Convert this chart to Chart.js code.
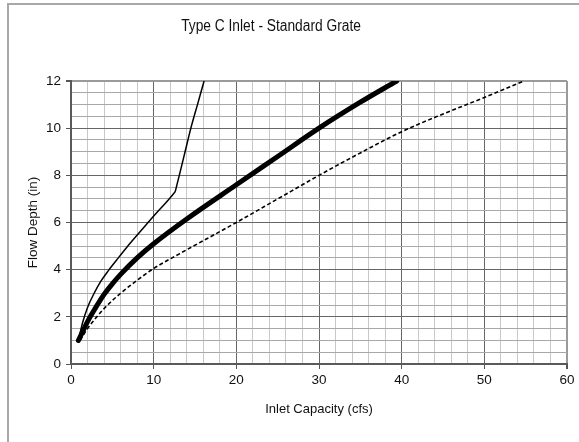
<!DOCTYPE html>
<html lang="en">
<head>
    <meta charset="UTF-8">
    <title>Type C Inlet - Standard Grate</title>
    <style>
        html, body { margin: 0; padding: 0; background: #fff; overflow: hidden; }
        #wrap { position: relative; width: 579px; height: 442px; overflow: hidden; }
        #frame {
            position: absolute; left: 7px; top: 3px; width: 640px; height: 520px;
            border: 2px solid #a8a8a8; box-sizing: border-box;
        }
        canvas { position: absolute; left: 0; top: 0; }
    </style>
</head>
<body>
    <div id="wrap">
        <div id="frame"></div>
        <canvas id="inletChart" width="579" height="442"></canvas>
    </div>

    <script src="https://cdn.jsdelivr.net/npm/chart.js"></script>

    <script>
        // values (capacity in cfs, depth in inches)
        const thinLowX  = [0.9, 1.4, 2.0, 2.8, 3.6, 4.5, 5.5, 7.1, 8.7, 10.2, 11.5, 12.6];
        const thinLowY  = [1.0, 1.75, 2.4, 3.0, 3.5, 3.95, 4.4, 5.1, 5.75, 6.35, 6.85, 7.3];
        const thinHighX = [12.6, 13.1, 13.8, 14.5, 15.3, 16.1];
        const thinHighY = [7.3, 8.0, 9.0, 10.0, 11.0, 12.0];

        const thickX = [0.9, 2.0, 3.0, 4.0, 5.0, 6.0, 8.0, 10.0, 14.0, 20.0, 25.0, 30.0, 35.0, 39.4];
        const thickY = [1.0, 1.8, 2.4, 2.95, 3.4, 3.8, 4.5, 5.1, 6.15, 7.6, 8.8, 10.0, 11.1, 12.0];

        const dashX = [1.1, 2.0, 3.0, 4.0, 6.0, 8.0, 10.0, 13.0, 20.0, 25.0, 30.0, 35.0, 40.0, 45.0, 50.0, 54.8];
        const dashY = [1.0, 1.5, 1.95, 2.35, 3.0, 3.55, 4.05, 4.65, 6.0, 7.0, 8.0, 8.95, 9.85, 10.6, 11.3, 12.0];

        const xTicks = [0, 10, 20, 30, 40, 50, 60];
        const yTicks = [0, 2, 4, 6, 8, 10, 12];

        const chartTitle = 'Type C Inlet - Standard Grate';

        function pts(xs, ys) {
            return xs.map((x, i) => ({ x: x, y: ys[i] }));
        }

        const plain = "'Liberation Sans', Arial, sans-serif";

        // the original title is set in a narrow face, so squeeze it a little
        const narrowTitle = {
            id: 'narrowTitle',
            afterDraw(chart) {
                const c = chart.ctx;
                c.save();
                c.font = '16px ' + plain;
                c.fillStyle = '#111';
                c.textAlign = 'center';
                c.textBaseline = 'middle';
                c.translate(271, 27);
                c.scale(0.86, 1);
                c.fillText(chartTitle, 0, 0);
                c.restore();
            }
        };

        const thinStyle = {
            borderColor: '#000', borderWidth: 1.5, pointRadius: 0,
            showLine: true, cubicInterpolationMode: 'monotone', fill: false
        };

        const ctx = document.getElementById('inletChart').getContext('2d');

        new Chart(ctx, {
            type: 'scatter',
            data: {
                datasets: [
                    Object.assign({ data: pts(thinLowX, thinLowY) }, thinStyle),
                    Object.assign({ data: pts(thinHighX, thinHighY) }, thinStyle),
                    {
                        data: pts(thickX, thickY),
                        borderColor: '#000', borderWidth: 5, pointRadius: 0,
                        showLine: true, cubicInterpolationMode: 'monotone',
                        borderCapStyle: 'round'
                    },
                    {
                        data: pts(dashX, dashY),
                        borderColor: '#000', borderWidth: 1.6, borderDash: [4, 2.5],
                        pointRadius: 0, showLine: true, cubicInterpolationMode: 'monotone'
                    }
                ]
            },
            plugins: [narrowTitle],
            options: {
                responsive: false,
                animation: false,
                layout: { padding: { left: 0, right: 12, top: 81, bottom: 0 } },
                plugins: {
                    legend: { display: false },
                    tooltip: { enabled: false },
                    title: { display: false }
                },
                scales: {
                    x: {
                        type: 'linear', min: 0, max: 60,
                        afterFit: s => { s.height = 78; },
                        ticks: {
                            stepSize: 2, autoSkip: false, maxRotation: 0, padding: 3,
                            color: '#111', font: { family: plain, size: 13.5 },
                            callback: v => xTicks.includes(v) ? v : ''
                        },
                        grid: {
                            tickLength: 5,
                            color: c => c.tick.value === 60 ? '#9a9a9a' : (c.tick.value % 10 === 0 ? '#666' : '#c8c8c8'),
                            lineWidth: c => c.tick.value === 60 ? 2 : 1,
                            tickColor: c => c.tick.value % 10 === 0 ? '#555' : 'rgba(0,0,0,0)'
                        },
                        border: { color: '#5a5a5a', width: 2 },
                        title: {
                            display: true, text: 'Inlet Capacity (cfs)', color: '#111',
                            font: { family: plain, size: 13 },
                            padding: { top: 0, bottom: 25 }
                        }
                    },
                    y: {
                        type: 'linear', min: 0, max: 12,
                        afterFit: s => { s.width = 71; },
                        ticks: {
                            stepSize: 0.5, autoSkip: false, padding: 5,
                            color: '#111', font: { family: plain, size: 13.5 },
                            callback: v => yTicks.includes(v) ? v : ''
                        },
                        grid: {
                            tickLength: 5,
                            color: c => c.tick.value === 12 ? '#9a9a9a' : (c.tick.value % 2 === 0 ? '#666' : '#a8a8a8'),
                            lineWidth: c => c.tick.value === 12 ? 2 : 1,
                            tickColor: c => c.tick.value % 2 === 0 ? '#555' : 'rgba(0,0,0,0)'
                        },
                        border: { color: '#5a5a5a', width: 2 },
                        title: {
                            display: true, text: 'Flow Depth (in)', color: '#111',
                            font: { family: plain, size: 13.5 },
                            padding: { top: 25, bottom: 0 }
                        }
                    }
                }
            }
        });
    </script>
</body>
</html>
